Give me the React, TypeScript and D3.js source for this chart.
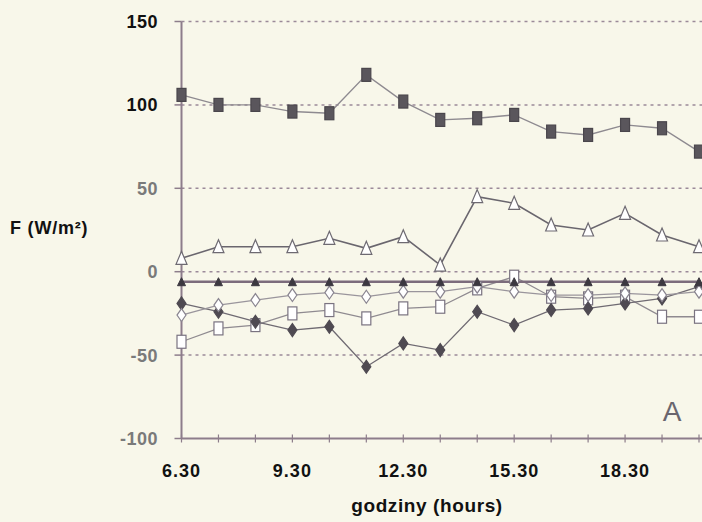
import React from "react";
import * as d3 from "d3";

// Hourly time stamps (index 0 = 6.30 ... index 14 = 20.30)
const hours = ["6.30","7.30","8.30","9.30","10.30","11.30","12.30","13.30","14.30","15.30","16.30","17.30","18.30","19.30","20.30"];
const xTickLabels = ["6.30","9.30","12.30","15.30","18.30"];
const yTicks = [150, 100, 50, 0, -50, -100];
const gridValues = [150, 100, 50, 0, -50];

// Flux series, W/m²
const seriesFilledSquare = [106, 100, 100, 96, 95, 118, 102, 91, 92, 94, 84, 82, 88, 86, 72];
const seriesOpenTriangle = [8, 15, 15, 15, 20, 14, 21, 4, 45, 41, 28, 25, 35, 22, 15];
const seriesFilledTriangle = [-6, -6, -6, -6, -6, -6, -6, -6, -6, -6, -6, -6, -6, -6, -6];
const seriesOpenDiamond = [-26, -20, -17, -14, -12.5, -15, -12, -12, -9, -12, -14, -14, -13, -14, -12];
const seriesFilledDiamond = [-19, -24, -30, -35, -33, -57, -43, -47, -24, -32, -23, -22, -19, -16, -9];
const seriesOpenSquare = [-42, -34, -32, -25, -23, -28, -22, -21, -10, -3, -15, -16, -15, -27, -27];

const W = 702;
const H = 522;
const x = d3.scaleLinear().domain([0, 14]).range([181.5, 699]);
const y = d3.scaleLinear().domain([-100, 150]).range([438.5, 21.5]);

const axisColor = "#8d7d8b";
const gridColor = "#9b8a99";
const font = "'Liberation Sans', Arial, sans-serif";

type Shape = "square" | "triangle" | "smallTriangle" | "diamond";

function Marker({ shape, cx, cy, fill, stroke }: { shape: Shape; cx: number; cy: number; fill: string; stroke: string }) {
  if (shape === "square") {
    return <rect x={cx - 4.5} y={cy - 6.5} width={9} height={13} fill={fill} stroke={stroke} strokeWidth={1.2} />;
  }
  if (shape === "triangle") {
    const p = d3.path();
    p.moveTo(cx, cy - 7);
    p.lineTo(cx + 5.5, cy + 6);
    p.lineTo(cx - 5.5, cy + 6);
    p.closePath();
    return <path d={p.toString()} fill={fill} stroke={stroke} strokeWidth={1.2} />;
  }
  if (shape === "smallTriangle") {
    const p = d3.path();
    p.moveTo(cx, cy - 4);
    p.lineTo(cx + 4, cy + 4);
    p.lineTo(cx - 4, cy + 4);
    p.closePath();
    return <path d={p.toString()} fill={fill} stroke={stroke} strokeWidth={1} />;
  }
  const p = d3.path();
  p.moveTo(cx, cy - 6.5);
  p.lineTo(cx + 4.5, cy);
  p.lineTo(cx, cy + 6.5);
  p.lineTo(cx - 4.5, cy);
  p.closePath();
  return <path d={p.toString()} fill={fill} stroke={stroke} strokeWidth={1.2} />;
}

type Series = {
  values: number[];
  shape: Shape;
  fill: string;
  stroke: string;
  line: string;
  lineWidth: number;
};

const series: Series[] = [
  { values: seriesOpenSquare, shape: "square", fill: "#ffffff", stroke: "#7a7380", line: "#8f8a90", lineWidth: 1.3 },
  { values: seriesFilledDiamond, shape: "diamond", fill: "#4f4a52", stroke: "#4f4a52", line: "#6f6a72", lineWidth: 1.3 },
  { values: seriesOpenDiamond, shape: "diamond", fill: "#ffffff", stroke: "#8a8590", line: "#9a959c", lineWidth: 1.3 },
  { values: seriesFilledTriangle, shape: "smallTriangle", fill: "#3c3840", stroke: "#3c3840", line: "#7c6c7c", lineWidth: 2.6 },
  { values: seriesOpenTriangle, shape: "triangle", fill: "#ffffff", stroke: "#6e6a72", line: "#6a666e", lineWidth: 1.6 },
  { values: seriesFilledSquare, shape: "square", fill: "#5a565c", stroke: "#4a464c", line: "#8e8a90", lineWidth: 1.4 },
];

export default function App() {
  const line = d3
    .line<number>()
    .x((_, i) => x(i))
    .y((v) => y(v));

  return (
    <svg
      width={W}
      height={H}
      style={{ position: "fixed", left: 0, top: 0, background: "#f8f7ea" }}
    >
      <rect x={0} y={0} width={W} height={H} fill="#f8f7ea" />

      {/* dotted grid lines */}
      {gridValues.map((v) => (
        <line
          key={`g${v}`}
          x1={x(0)}
          x2={W}
          y1={y(v)}
          y2={y(v)}
          stroke={gridColor}
          strokeWidth={1.5}
          strokeDasharray="3 4"
        />
      ))}

      {/* axes */}
      <line x1={x(0)} x2={x(0)} y1={y(150)} y2={y(-100)} stroke={axisColor} strokeWidth={2} />
      <line x1={x(0)} x2={W} y1={y(-100)} y2={y(-100)} stroke={axisColor} strokeWidth={2} />

      {yTicks.map((v) => (
        <g key={`yt${v}`}>
          <line x1={x(0) - 7} x2={x(0)} y1={y(v)} y2={y(v)} stroke={axisColor} strokeWidth={1.5} />
          <text
            x={158}
            y={y(v)}
            dy="0.36em"
            textAnchor="end"
            fontFamily={font}
            fontWeight="bold"
            fontSize={18}
            letterSpacing={0.5}
            fill={v >= 100 ? "#111111" : "#7a7a7a"}
          >
            {v}
          </text>
        </g>
      ))}

      {hours.map((h, i) => (
        <line
          key={`xt${h}`}
          x1={x(i)}
          x2={x(i)}
          y1={y(-100) - 4}
          y2={y(-100) + 4}
          stroke={axisColor}
          strokeWidth={1.2}
        />
      ))}

      {xTickLabels.map((lab) => (
        <text
          key={`xl${lab}`}
          x={x(hours.indexOf(lab))}
          y={477}
          textAnchor="middle"
          fontFamily={font}
          fontWeight="bold"
          fontSize={18}
          letterSpacing={1}
          fill="#111111"
        >
          {lab}
        </text>
      ))}

      {/* series lines */}
      {series.map((s, k) => (
        <path key={`l${k}`} d={line(s.values) ?? ""} fill="none" stroke={s.line} strokeWidth={s.lineWidth} />
      ))}

      {/* series markers */}
      {series.map((s, k) =>
        s.values.map((v, i) => (
          <Marker key={`m${k}-${i}`} shape={s.shape} cx={x(i)} cy={y(v)} fill={s.fill} stroke={s.stroke} />
        ))
      )}

      {/* labels */}
      <text x={10} y={234} fontFamily={font} fontWeight="bold" fontSize={18} letterSpacing={0.8} fill="#111111">
        F (W/m²)
      </text>
      <text x={427} y={512} textAnchor="middle" fontFamily={font} fontWeight="bold" fontSize={19} letterSpacing={0.6} fill="#111111">
        godziny (hours)
      </text>
      <text x={672} y={421} textAnchor="middle" fontFamily={font} fontSize={28} fill="#6a666e">
        A
      </text>
    </svg>
  );
}
